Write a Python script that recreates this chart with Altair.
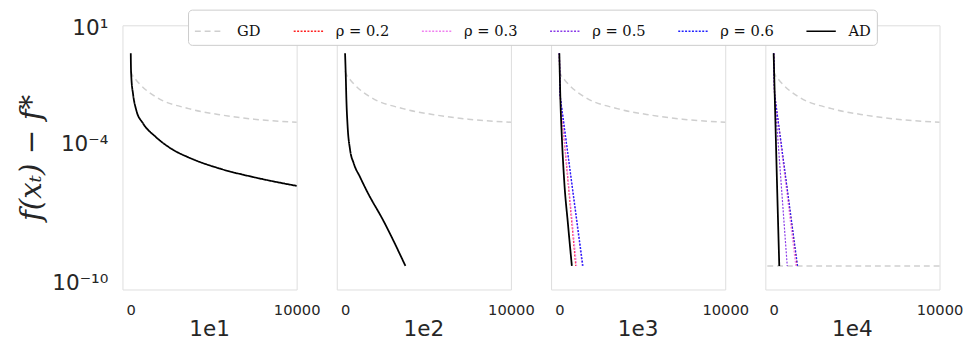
import altair as alt
import pandas as pd

panels = ["1e1", "1e2", "1e3", "1e4"]
series = ["GD", "ρ = 0.2", "ρ = 0.3", "ρ = 0.5", "ρ = 0.6", "AD"]
colors = ["#cfcfcf", "#ff2020", "#f080f0", "#8a3be8", "#2020ff", "#000000"]
dashes = [[6, 4], [2, 1.5], [2, 1.5], [2, 1.5], [2, 1.5], [1, 0]]

# GD curve (same in every panel)
gd_t = [0, 100, 331, 532, 1515, 3491, 5462, 7432, 10000]
gd_f = [1.35e-1, 8.9e-2, 5.4e-2, 3.7e-2, 1.02e-2, 3.2e-3, 1.7e-3, 1.12e-3, 8.3e-4]

# AD curves per panel
ad_t = {
    "1e1": [0, 10, 35, 136, 331, 728, 1515, 2503, 3491, 5462, 7432, 10000],
    "1e2": [0, 40, 80, 154, 300, 520, 900, 1335, 2321, 3640],
    "1e3": [0, 65, 140, 297, 520, 754],
    "1e4": [0, 80, 165, 340],
}
ad_f = {
    "1e1": [7.9e-1, 2e-1, 7.1e-2, 1.38e-2, 2.75e-3, 7.6e-4, 1.9e-4, 5.6e-5, 2.5e-5, 7.9e-6,
            3.5e-6, 1.48e-6],
    "1e2": [7.9e-1, 1e-1, 7.9e-3, 5.5e-4, 5.5e-5, 1.4e-5, 3.6e-6, 8.3e-7, 4.5e-8, 5.2e-10],
    "1e3": [7.9e-1, 7.2e-3, 2.8e-4, 2.2e-6, 3.3e-8, 5.2e-10],
    "1e4": [7.9e-1, 5e-3, 2.1e-5, 5.2e-10],
}

# rho curves (panels 1e3 and 1e4)
rho_t = {
    ("1e3", "ρ = 0.2"): [0, 40, 990],
    ("1e3", "ρ = 0.3"): [0, 40, 1040],
    ("1e3", "ρ = 0.5"): [0, 45, 1390],
    ("1e3", "ρ = 0.6"): [0, 45, 1425],
    ("1e4", "ρ = 0.2"): [0, 55, 1420],
    ("1e4", "ρ = 0.3"): [0, 55, 1340],
    ("1e4", "ρ = 0.5"): [0, 55, 820],
    ("1e4", "ρ = 0.6"): [0, 55, 1445],
}
rho_f = {
    ("1e3", "ρ = 0.2"): [7.9e-1, 1.3e-2, 5.2e-10],
    ("1e3", "ρ = 0.3"): [7.9e-1, 1.3e-2, 5.2e-10],
    ("1e3", "ρ = 0.5"): [7.9e-1, 1.2e-2, 5.2e-10],
    ("1e3", "ρ = 0.6"): [7.9e-1, 1.2e-2, 5.2e-10],
    ("1e4", "ρ = 0.2"): [7.9e-1, 1.4e-2, 5.2e-10],
    ("1e4", "ρ = 0.3"): [7.9e-1, 1.4e-2, 5.2e-10],
    ("1e4", "ρ = 0.5"): [7.9e-1, 1.4e-2, 5.2e-10],
    ("1e4", "ρ = 0.6"): [7.9e-1, 1.4e-2, 5.2e-10],
}

# GD floor line drawn only in last panel
floor_panel = ["1e4"]
floor_value = [5.2e-10]

rows = []
for p in panels:
    for t, f in zip(gd_t, gd_f):
        rows.append({"panel": p, "series": "GD", "t": t, "f": f, "kind": "line", "rank": 0})
for (p, s), ts in rho_t.items():
    for t, f in zip(ts, rho_f[(p, s)]):
        rows.append({"panel": p, "series": s, "t": t, "f": f, "kind": "line", "rank": 1})
for p in panels:
    for t, f in zip(ad_t[p], ad_f[p]):
        rows.append({"panel": p, "series": "AD", "t": t, "f": f, "kind": "line", "rank": 2})
for p, v in zip(floor_panel, floor_value):
    rows.append({"panel": p, "series": "GD", "t": None, "f": v, "kind": "floor", "rank": 0})

df = pd.DataFrame(rows)

color = alt.Color(
    "series:N",
    scale=alt.Scale(domain=series, range=colors),
    legend=alt.Legend(
        title=None,
        orient="none",
        direction="horizontal",
        columns=6,
        legendX=67,
        legendY=-16,
        symbolType="stroke",
        symbolSize=900,
        symbolStrokeWidth=1.5,
        labelFont="DejaVu Serif",
        labelFontSize=15,
        labelColor="#111111",
        labelOffset=12,
        columnPadding=30,
        padding=6,
        fillColor="white",
        strokeColor="#cccccc",
        cornerRadius=4,
    ),
)
dash = alt.StrokeDash("series:N", scale=alt.Scale(domain=series, range=dashes), legend=None)

x = alt.X(
    "t:Q",
    scale=alt.Scale(domain=[-500, 10000], nice=False, zero=False),
    axis=alt.Axis(values=[0, 10000], format="d", title=None, grid=False, ticks=False, domain=False,
                  labelFontSize=15, labelColor="#262626", labelFont="DejaVu Sans",
                  labelPadding=13, labelFlush=False, labelOverlap=False),
)
y = alt.Y(
    "f:Q",
    scale=alt.Scale(type="log", domain=[5e-11, 12.6], nice=False),
    axis=alt.Axis(
        values=[10, 1e-4, 1e-10],
        labelExpr="datum.value > 1 ? '10¹' : (datum.value > 1e-7 ? '10⁻⁴' : '10⁻¹⁰')",
        title="f(xₜ) − f*",
        titleFont="DejaVu Serif",
        titleFontStyle="italic",
        titleFontWeight="normal",
        titleFontSize=30,
        titleColor="#262626",
        titlePadding=6,
        grid=False, ticks=False, domain=False,
        labelFontSize=22, labelColor="#262626", labelFont="DejaVu Sans",
        labelPadding=14,
    ),
)

base = alt.Chart().encode(x=x, y=y, color=color, strokeDash=dash)

gd_layer = base.transform_filter("datum.kind == 'line' && datum.rank == 0").mark_line(
    strokeWidth=1.5, interpolate="monotone")
rho_layer = base.transform_filter("datum.rank == 1").mark_line(strokeWidth=1.2)
ad_layer = base.transform_filter("datum.rank == 2").mark_line(strokeWidth=1.8, interpolate="monotone")
floor_layer = alt.Chart().transform_filter("datum.kind == 'floor'").mark_rule(strokeWidth=1.5).encode(
    y=alt.Y("f:Q"), color=alt.Color("series:N"), strokeDash=alt.StrokeDash("series:N")
)

chart = (
    alt.layer(gd_layer, floor_layer, rho_layer, ad_layer, data=df)
    .properties(width=178, height=270)
    .facet(
        column=alt.Column(
            "panel:N",
            sort=panels,
            title=None,
            header=alt.Header(labelOrient="bottom", labelFontSize=22, labelColor="#262626",
                              labelFont="DejaVu Sans", labelPadding=2),
        ),
        spacing=34,
    )
    .properties(padding={"left": 8, "top": -3, "right": 0, "bottom": 0})
    .configure_view(stroke="#cccccc", strokeWidth=1.5)
    .configure(background="white")
)

chart.save("out.html", embed_options={"renderer": "svg", "actions": False})
